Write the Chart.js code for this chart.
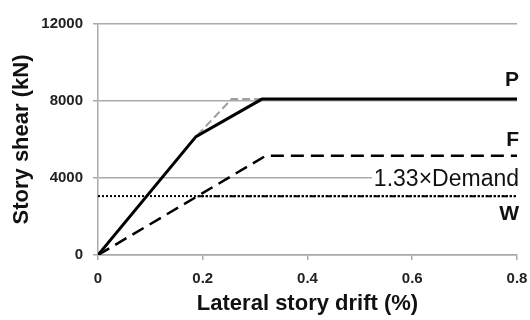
<!DOCTYPE html>
<html>
<head>
<meta charset="utf-8">
<script src="https://cdn.jsdelivr.net/npm/chart.js@4"></script>
<style>
  body { margin: 0; background: #fff; }
</style>
</head>
<body>
<canvas id="grafica" width="530" height="320"></canvas>
<script>
// valores
const pDrift = [0, 0.187, 0.313, 0.8];
const pShear = [0, 6150, 8100, 8100];
const grisDrift = [0, 0.187, 0.255, 0.313];
const grisShear = [0, 6150, 8100, 8100];
const fDrift = [0, 0.32, 0.8];
const fShear = [0, 5150, 5150];
const wDrift = [0.19, 0.8];
const wShear = [3050, 3050];
const demandaDrift = [0, 0.8];
const demandaShear = [3060, 3060];
const xTicks = [0, 0.2, 0.4, 0.6, 0.8];
const yTicks = [0, 4000, 8000, 12000];

const puntos = (xs, ys) => xs.map((x, i) => ({ x: x, y: ys[i] }));

const fuente = 'Liberation Sans, Arial, sans-serif';

// etiquetas P, F, W y 1.33xDemand a la derecha
const etiquetas = {
  id: 'etiquetas',
  afterDraw(chart) {
    const ctx = chart.ctx;
    const y = chart.scales.y;
    const xd = 519;
    ctx.save();
    ctx.fillStyle = '#111';
    ctx.textAlign = 'right';
    ctx.textBaseline = 'middle';
    ctx.font = 'bold 21px ' + fuente;
    ctx.fillText('P', xd, y.getPixelForValue(8100) - 19);
    ctx.fillText('F', xd, y.getPixelForValue(5150) - 16);
    ctx.fillText('W', xd, y.getPixelForValue(3050) + 18);
    ctx.font = '23px ' + fuente;
    const txt = '1.33×Demand';
    const yy = y.getPixelForValue(4000) + 2;
    const w = ctx.measureText(txt).width;
    ctx.fillStyle = '#fff';
    ctx.fillRect(xd - w - 2, yy - 9, w + 4, 16);
    ctx.fillStyle = '#111';
    ctx.fillText(txt, xd, yy);
    ctx.restore();
  }
};

new Chart(document.getElementById('grafica'), {
  type: 'line',
  data: {
    datasets: [
      {
        label: 'P',
        data: puntos(pDrift, pShear),
        borderColor: '#000',
        borderWidth: 3
      },
      {
        label: 'P2',
        data: puntos(grisDrift, grisShear),
        borderColor: '#a0a0a0',
        borderWidth: 2,
        borderDash: [8, 4]
      },
      {
        label: 'F',
        data: puntos(fDrift, fShear),
        borderColor: '#000',
        borderWidth: 2.5,
        borderDash: [13, 7]
      },
      {
        label: 'W',
        data: puntos(wDrift, wShear),
        borderColor: '#000',
        borderWidth: 2,
        borderDash: [6, 2, 2, 2, 2, 2]
      },
      {
        label: '1.33xDemand',
        data: puntos(demandaDrift, demandaShear),
        borderColor: '#000',
        borderWidth: 2,
        borderDash: [2, 2]
      }
    ]
  },
  options: {
    responsive: false,
    animation: false,
    devicePixelRatio: 1,
    layout: { padding: { top: 24, right: 0, left: 0, bottom: 0 } },
    elements: {
      point: { radius: 0 },
      line: { tension: 0, fill: false }
    },
    scales: {
      x: {
        type: 'linear',
        min: 0,
        max: 0.8,
        afterBuildTicks: s => { s.ticks = xTicks.map(v => ({ value: v })); },
        afterFit: s => { s.height = 65; s.paddingRight = 13; s.paddingLeft = 0; },
        grid: { drawOnChartArea: false, tickLength: 5, color: '#aaa', lineWidth: 1.5 },
        border: { color: '#aaa', width: 1.5 },
        ticks: {
          padding: 10,
          color: '#222',
          font: { family: fuente, size: 15, weight: 'bold' },
          callback: v => String(Math.round(v * 10) / 10)
        },
        title: {
          display: true,
          text: 'Lateral story drift (%)',
          color: '#111',
          font: { family: fuente, size: 22, weight: 'bold' },
          padding: { top: 0, bottom: 3 }
        }
      },
      y: {
        min: 0,
        max: 12000,
        afterBuildTicks: s => { s.ticks = yTicks.map(v => ({ value: v })); },
        afterFit: s => { s.width = 98; s.paddingTop = 0; s.paddingBottom = 0; },
        grid: { tickLength: 5, color: '#aaa', lineWidth: 1.5 },
        border: { color: '#aaa', width: 1.5 },
        ticks: {
          padding: 10,
          color: '#222',
          font: { family: fuente, size: 15, weight: 'bold' },
          callback: v => String(v)
        },
        title: {
          display: true,
          text: 'Story shear (kN)',
          color: '#111',
          font: { family: fuente, size: 22, weight: 'bold' },
          padding: { top: 9, bottom: 0 }
        }
      }
    },
    plugins: {
      legend: { display: false },
      tooltip: { enabled: false }
    }
  },
  plugins: [etiquetas]
});
</script>
</body>
</html>
